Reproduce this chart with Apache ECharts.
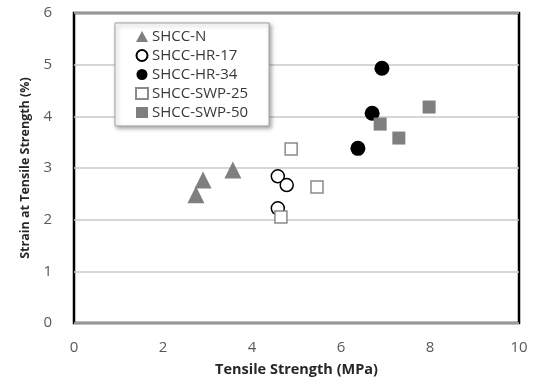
<!DOCTYPE html>
<html>
<head>
<meta charset="utf-8">
<script src="https://cdn.jsdelivr.net/npm/echarts@6/dist/echarts.min.js"></script>
<style>
  html, body { margin: 0; padding: 0; background: #fff; }
  #chart { width: 538px; height: 382px; }
</style>
</head>
<body>
<div id="chart"></div>
<script>
// Tensile strength (MPa) vs strain at tensile strength (%) per mix
const seriesNames = ['SHCC-N', 'SHCC-HR-17', 'SHCC-HR-34', 'SHCC-SWP-25', 'SHCC-SWP-50'];
const shccN     = [[2.74, 2.48], [2.90, 2.77], [3.57, 2.96]];
const shccHR17  = [[4.58, 2.84], [4.78, 2.67], [4.58, 2.22]];
const shccHR34  = [[6.92, 4.93], [6.70, 4.06], [6.38, 3.38]];
const shccSWP25 = [[4.88, 3.37], [5.46, 2.63], [4.65, 2.05]];
const shccSWP50 = [[6.88, 3.85], [7.30, 3.58], [7.98, 4.18]];
const xTicks = [0, 2, 4, 6, 8, 10];
const yTicks = [0, 1, 2, 3, 4, 5, 6];

const fontFam = '"Open Sans", "Liberation Sans", sans-serif';

const chart = echarts.init(document.getElementById('chart'), null, { renderer: 'canvas' });

const styles = [
  { symbol: 'triangle', symbolSize: 17, itemStyle: { color: '#7f7f7f', opacity: 1 } },
  { symbol: 'circle', symbolSize: 13, itemStyle: { color: '#ffffff', borderColor: '#000000', borderWidth: 1.5, opacity: 1 } },
  { symbol: 'circle', symbolSize: 15, itemStyle: { color: '#000000', opacity: 1 } },
  { symbol: 'rect', symbolSize: 12, itemStyle: { color: '#ffffff', borderColor: '#8a8a8a', borderWidth: 1.5, opacity: 1 } },
  { symbol: 'rect', symbolSize: 13, itemStyle: { color: '#7f7f7f', opacity: 1 } }
];
const dataSets = [shccN, shccHR17, shccHR34, shccSWP25, shccSWP50];

chart.setOption({
  animation: false,
  backgroundColor: '#ffffff',
  grid: {
    left: 74, right: 19, top: 13, bottom: 59,
    show: true, borderColor: '#000000', borderWidth: 2.5, backgroundColor: 'transparent'
  },
  legend: {
    orient: 'vertical',
    left: 115, top: 23,
    padding: [4, 21, 4, 20],
    itemGap: 0,
    itemWidth: 12, itemHeight: 11,
    backgroundColor: '#ffffff',
    borderColor: '#a0a0a0', borderWidth: 1,
    shadowColor: 'rgba(0,0,0,0.35)', shadowBlur: 4, shadowOffsetX: 2, shadowOffsetY: 2,
    textStyle: { fontFamily: fontFam, fontSize: 15, lineHeight: 19, color: '#383838', padding: [0, 0, 0, -1] },
    data: seriesNames
  },
  xAxis: {
    type: 'value', min: 0, max: 10, interval: 2,
    name: 'Tensile Strength (MPa)', nameLocation: 'middle', nameGap: 39,
    nameTextStyle: { fontFamily: fontFam, fontSize: 14.5, fontWeight: 'bold', color: '#262626' },
    axisLine: { show: false }, axisTick: { show: false },
    splitLine: { show: false },
    axisLabel: { fontFamily: fontFam, fontSize: 15, color: '#595959', margin: 17,
      formatter: v => xTicks.includes(v) ? String(v) : '' }
  },
  yAxis: {
    type: 'value', min: 0, max: 6, interval: 1,
    name: 'Strain at Tensile Strength (%)', nameLocation: 'middle', nameGap: 42,
    nameTextStyle: { fontFamily: fontFam, fontSize: 12.5, fontWeight: 'bold', color: '#262626' },
    axisLine: { show: false }, axisTick: { show: false },
    splitLine: { show: true, lineStyle: { color: '#c8c8c8', width: 1.5 } },
    axisLabel: { fontFamily: fontFam, fontSize: 15, color: '#595959', margin: 22,
      formatter: v => yTicks.includes(v) ? String(v) : '' }
  },
  series: seriesNames.map((n, i) => Object.assign({
    name: n, type: 'scatter', data: dataSets[i], z: 3
  }, styles[i]))
});
</script>
</body>
</html>
